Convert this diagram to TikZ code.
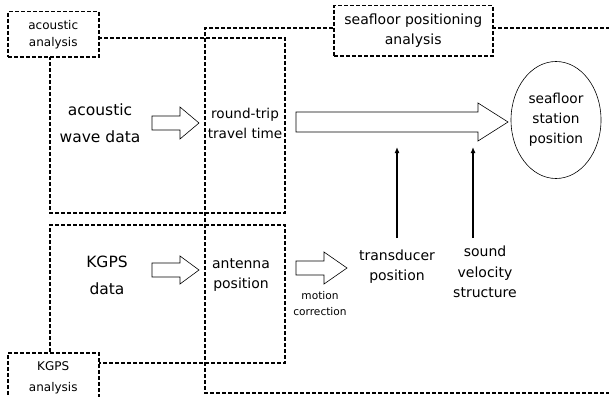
\documentclass[tikz,border=0pt]{standalone}
\usepackage{fontspec}
\setmainfont{DejaVu Sans}
\usetikzlibrary{arrows.meta, shapes.geometric}
\tikzset{
  region/.style={line width=1.5pt, dash pattern=on 4pt off 2pt},
  labelbox/.style={region, fill=white, draw, inner sep=0pt},
  bigtxt/.style={align=center, font=\fontsize{15.5}{27}\selectfont},
  midtxt/.style={align=center, font=\fontsize{14}{20}\selectfont},
  smalltxt/.style={align=center, font=\fontsize{12}{17}\selectfont},
  tinytxt/.style={align=center, font=\fontsize{10.6}{16}\selectfont},
  hollow/.style={draw, line width=0.6pt, fill=white, line join=miter},
  thinarrow/.style={line width=1.2pt, -{Latex[length=6pt,width=5pt]}},
}
% block arrow: #1 tail x, #2 neck x, #3 tip x, #4 centre y, #5 shaft half height, #6 head half height
\newcommand{\blockarrow}[6]{%
  \draw[hollow] (#1,#4-#5) -- (#2,#4-#5) -- (#2,#4-#6) -- (#3,#4)
    -- (#2,#4+#6) -- (#2,#4+#5) -- (#1,#4+#5) -- cycle;}
\begin{document}
\begin{tikzpicture}[x=1pt,y=-1pt]
\useasboundingbox (0,0) rectangle (609,396);

% processing regions
\draw[region] (333,28) -- (205,28) -- (205,393) -- (609,393);
\draw[region] (492,28) -- (609,28);
\draw[region] (98,38) -- (285,38) -- (285,213) -- (50,213) -- (50,56);
\draw[region] (50,352) -- (50,225) -- (285,225) -- (285,363) -- (98,363);

% region titles
\node[labelbox, minimum width=91pt, minimum height=45pt, anchor=north west,
      smalltxt] (acan) at (7,11) {acoustic\\analysis};
\node[labelbox, minimum width=159pt, minimum height=50pt, anchor=north west,
      midtxt] (sfan) at (333,5) {seafloor positioning\\analysis};
\node[labelbox, minimum width=91pt, minimum height=50pt, anchor=north west,
      smalltxt, font=\fontsize{12}{21}\selectfont] (kgan) at (7,352)
      {KGPS\\analysis};

% data items
\node[bigtxt] (wave) at (100,123) {acoustic\\wave data};
\node[midtxt, font=\fontsize{13.6}{20}\selectfont] (rtt) at (245,123) {round-trip\\travel time};
\node[bigtxt] (kgps) at (107,275) {KGPS\\data};
\node[midtxt] (ant) at (241,275) {antenna\\position};
\node[midtxt] (trans) at (397,267) {transducer\\position};
\node[midtxt, font=\fontsize{14}{20.5}\selectfont] (sound) at (485,272) {sound\\velocity\\structure};
\node[tinytxt] (motion) at (320,304) {motion\\correction};
\node[draw, ellipse, line width=0.6pt, minimum width=90pt, minimum height=117pt,
      midtxt, font=\fontsize{13.7}{20}\selectfont, inner sep=0pt] (station) at (556,120)
      {seafloor\\station\\position};

% block arrows between stages
\blockarrow{152}{180}{199}{123}{7}{16}
\blockarrow{152}{180}{199}{270}{7}{14}
\blockarrow{296}{324}{347}{268}{7}{16}
\blockarrow{296}{478}{508}{122}{10}{19}

% inputs to the positioning
\coordinate (tin) at (397,147);
\coordinate (sin) at (473,147);
\draw[thinarrow] (trans.north |- 0,238) -- (tin);
\draw[thinarrow] (473,238) -- (sin);
\end{tikzpicture}
\end{document}
